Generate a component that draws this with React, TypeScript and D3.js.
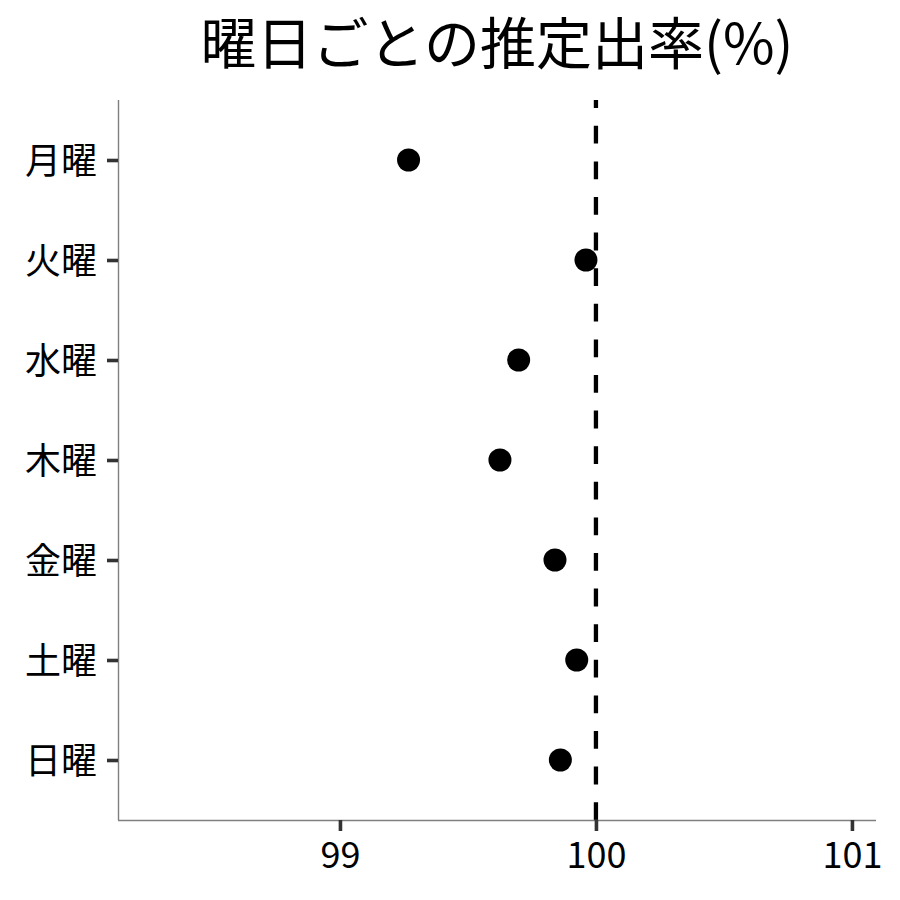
import React, { useRef, useEffect } from 'react';
import * as d3 from 'd3';

// 曜日ごとの推定出率
const days = ['月曜', '火曜', '水曜', '木曜', '金曜', '土曜', '日曜'];
const rates = [99.268, 99.961, 99.698, 99.625, 99.84, 99.925, 99.861];
const xTicks = [99, 100, 101];
const refValue = 100;
const title = '曜日ごとの推定出率(%)';

const W = 900;
const H = 900;
const margin = { top: 100, right: 24, bottom: 80, left: 118 };
const FONT = '"Noto Sans CJK JP", "Noto Sans", sans-serif';

const App = () => {
  const ref = useRef<SVGSVGElement>(null);

  useEffect(() => {
    const svg = d3.select(ref.current);
    svg.selectAll('*').remove();

    const x = d3.scaleLinear()
      .domain([98.133, 101.094])
      .range([margin.left, W - margin.right]);

    const y = d3.scalePoint<string>()
      .domain(days)
      .range([margin.top, H - margin.bottom])
      .padding(0.6);

    const bottom = H - margin.bottom;

    // reference line at 100, dashed from the bottom up
    svg.append('path')
      .attr('d', `M${x(refValue)},${bottom}V${margin.top}`)
      .attr('stroke', '#000')
      .attr('stroke-width', 4.3)
      .attr('stroke-dasharray', '17.8,17.8')
      .attr('fill', 'none');

    // points
    svg.selectAll('circle.pt')
      .data(days)
      .enter()
      .append('circle')
      .attr('class', 'pt')
      .attr('cx', (d, i) => x(rates[i]))
      .attr('cy', d => y(d)!)
      .attr('r', 11.5)
      .attr('fill', '#000');

    // x axis
    const xAxis = svg.append('g')
      .attr('transform', `translate(0,${bottom})`)
      .call(d3.axisBottom(x).tickValues(xTicks).tickSize(11).tickPadding(12).tickFormat(d3.format('d')));
    xAxis.select('.domain')
      .attr('d', `M${margin.left},0.5H${W - margin.right}`)
      .attr('stroke', '#7f7f7f')
      .attr('stroke-width', 1.4);
    xAxis.selectAll('.tick line').attr('stroke', '#333').attr('stroke-width', 3.6);
    xAxis.selectAll('.tick text')
      .attr('font-family', FONT)
      .attr('font-size', 36)
      .attr('fill', '#000')
      .attr('dy', '0.7em');

    // y axis
    const yAxis = svg.append('g')
      .attr('transform', `translate(${margin.left},0)`)
      .call(d3.axisLeft(y).tickSize(11).tickPadding(10));
    yAxis.select('.domain')
      .attr('d', `M0.5,${margin.top}V${bottom}`)
      .attr('stroke', '#7f7f7f')
      .attr('stroke-width', 1.4);
    yAxis.selectAll('.tick line').attr('stroke', '#333').attr('stroke-width', 3.6);
    yAxis.selectAll('.tick text')
      .attr('font-family', FONT)
      .attr('font-size', 36)
      .attr('fill', '#000')
      .attr('dy', '0.38em');

    // title
    svg.append('text')
      .attr('x', (margin.left + W - margin.right) / 2)
      .attr('y', 64)
      .attr('text-anchor', 'middle')
      .attr('font-family', FONT)
      .attr('font-size', 56)
      .attr('fill', '#000')
      .text(title);
  }, []);

  return (
    <div style={{ position: 'absolute', left: 0, top: 0 }}>
      <svg ref={ref} width={W} height={H} style={{ display: 'block', background: '#fff' }}></svg>
    </div>
  );
};

export default App;
